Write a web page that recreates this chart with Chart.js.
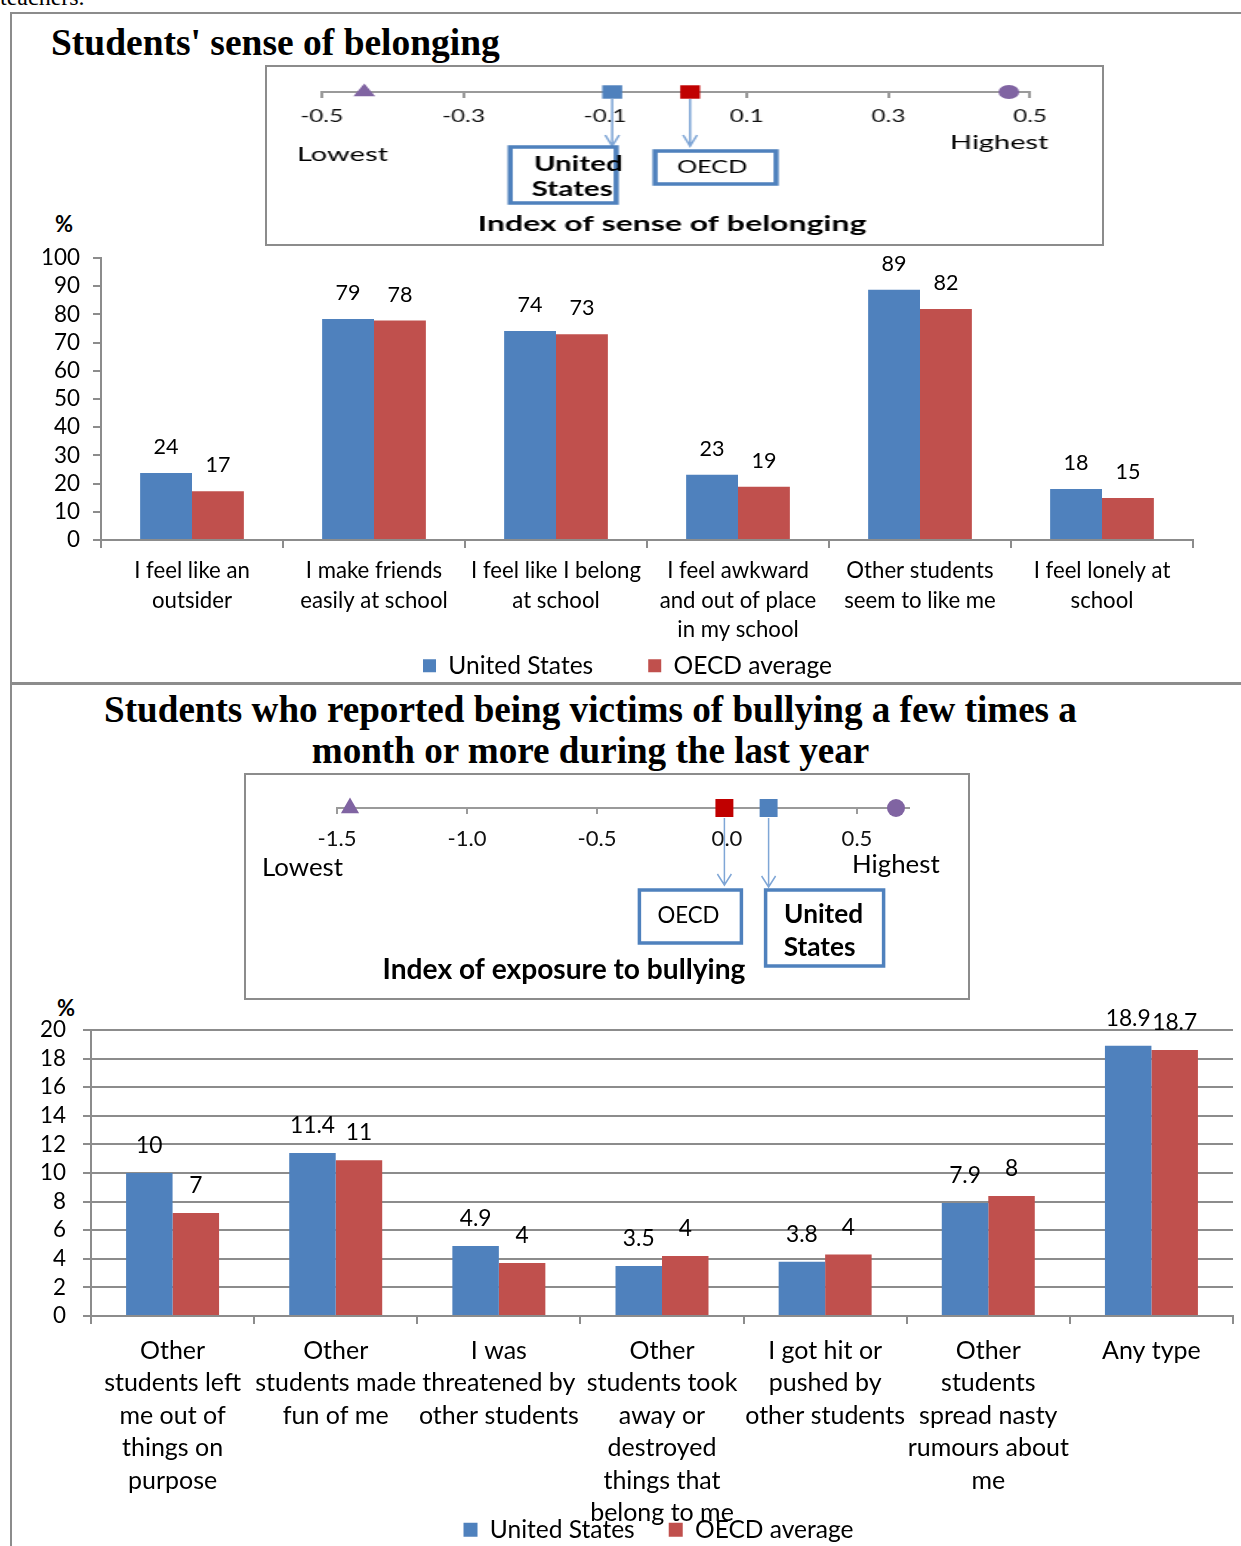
<!DOCTYPE html>
<html>
<head>
<meta charset="utf-8">
<script src="https://cdn.jsdelivr.net/npm/chart.js@4.4.1/dist/chart.umd.min.js"></script>
<style>
html, body { margin: 0; padding: 0; background: #fff; }
body { width: 1241px; height: 1546px; position: relative; overflow: hidden; font-family: Lato, sans-serif; }
.abs { position: absolute; }
.title { font-family: "Liberation Serif", serif; font-weight: bold; color: #000; line-height: 1; white-space: nowrap; }
.pct { font-family: Lato, sans-serif; font-weight: bold; font-size: 22px; line-height: 1; }
.inset { box-sizing: border-box; border: 2px solid #8c8c8c; background: #fff; overflow: hidden; }
.inset canvas { position: absolute; left: 0; top: 0; transform-origin: 0 0; }
</style>
</head>
<body>
<div id="teach" class="abs" style="left:0;top:-15px;font-family:'Liberation Serif',serif;font-size:24px;line-height:1;">teachers.</div>

<!-- panel frames -->
<div class="abs" style="left:10px;top:12px;width:1240px;height:670px;border-left:2px solid #8c8c8c;border-top:2px solid #8c8c8c;"></div>
<div class="abs" style="left:10px;top:682px;width:1240px;height:3px;background:#8c8c8c;"></div>
<div class="abs" style="left:10px;top:685px;width:2px;height:870px;background:#8c8c8c;"></div>

<div id="title1" class="abs title" style="left:51px;">Students' sense of belonging</div>
<div id="title2a" class="abs title" style="left:0;width:1181px;text-align:center;">Students who reported being victims of bullying a few times a</div>
<div id="title2b" class="abs title" style="left:0;width:1181px;text-align:center;">month or more during the last year</div>

<div class="abs pct" style="left:55px;top:213px;">%</div>
<div class="abs pct" style="left:57px;top:997px;">%</div>

<div class="abs inset" style="left:265px;top:65px;width:839px;height:181px;"><canvas id="inset1" width="564" height="177"></canvas></div>
<div class="abs inset" style="left:244px;top:773px;width:726px;height:227px;"><canvas id="inset2" width="722" height="223"></canvas></div>

<canvas id="chart1" class="abs" style="left:0;top:230px;" width="1241" height="458"></canvas>
<canvas id="chart2" class="abs" style="left:0;top:998px;" width="1241" height="554"></canvas>

<script>
// ---------- data ----------
const belongCategories = [
    ['I feel like an', 'outsider'],
    ['I make friends', 'easily at school'],
    ['I feel like I belong', 'at school'],
    ['I feel awkward', 'and out of place', 'in my school'],
    ['Other students', 'seem to like me'],
    ['I feel lonely at', 'school']
];
const belongUS = [23.8, 78.4, 74.1, 23.1, 88.7, 18.1];
const belongOECD = [17.3, 77.8, 73.0, 18.9, 81.9, 14.9];
const belongUSLabels = ['24', '79', '74', '23', '89', '18'];
const belongOECDLabels = ['17', '78', '73', '19', '82', '15'];
const belongYTicks = [0, 10, 20, 30, 40, 50, 60, 70, 80, 90, 100];

const bullyCategories = [
    ['Other', 'students left', 'me out of', 'things on', 'purpose'],
    ['Other', 'students made', 'fun of me'],
    ['I was', 'threatened by', 'other students'],
    ['Other', 'students took', 'away or', 'destroyed', 'things that', 'belong to me'],
    ['I got hit or', 'pushed by', 'other students'],
    ['Other', 'students', 'spread nasty', 'rumours about', 'me'],
    ['Any type']
];
const bullyUS = [10.0, 11.4, 4.9, 3.5, 3.8, 7.9, 18.9];
const bullyOECD = [7.2, 10.9, 3.7, 4.2, 4.3, 8.4, 18.6];
const bullyUSLabels = ['10', '11.4', '4.9', '3.5', '3.8', '7.9', '18.9'];
const bullyOECDLabels = ['7', '11', '4', '4', '4', '8', '18.7'];
const bullyYTicks = [0, 2, 4, 6, 8, 10, 12, 14, 16, 18, 20];

// index insets: lowest country, United States, OECD, highest country
const indexMarkers = ['Lowest', 'United States', 'OECD', 'Highest'];
const belongIndex = [-0.44, -0.09, 0.02, 0.47];
const belongIndexTicks = [-0.5, -0.3, -0.1, 0.1, 0.3, 0.5];
const bullyIndex = [-1.45, 0.16, -0.01, 0.65];
const bullyIndexTicks = [-1.5, -1.0, -0.5, 0.0, 0.5];

const BLUE = '#4F81BD';
const RED = '#C0504D';
const PURPLE = '#8064A2';
const DARKRED = '#C00000';
const AXIS = '#8c8c8c';

// font size that gives a text a wanted width
const mctx = document.createElement('canvas').getContext('2d');
function fit(text, font, width) {
    mctx.font = font.replace('SIZE', '100px');
    return 100 * width / mctx.measureText(text).width;
}

// titles
const serif = 'bold SIZE "Liberation Serif"';
function placeTitle(id, text, width, baseline) {
    const el = document.getElementById(id);
    const size = fit(text, serif, width);
    el.style.fontSize = size + 'px';
    el.style.top = (baseline - 0.8375 * size) + 'px';
}
placeTitle('title1', "Students' sense of belonging", 449, 55);
const t2 = fit('Students who reported being victims of bullying a few times a', serif, 973);
['title2a', 'title2b'].forEach((id, k) => {
    const el = document.getElementById(id);
    el.style.fontSize = t2 + 'px';
    el.style.top = (722 + 41 * k - 0.8375 * t2) + 'px';
});

// ---------- plugins ----------
const barLabels = {
    id: 'barLabels',
    afterDatasetsDraw(chart, args, opts) {
        const ctx = chart.ctx;
        ctx.save();
        ctx.font = opts.size + 'px Lato';
        ctx.fillStyle = '#000';
        ctx.textAlign = 'center';
        ctx.textBaseline = 'middle';
        chart.data.datasets.forEach((ds, di) => {
            chart.getDatasetMeta(di).data.forEach((bar, i) => {
                ctx.fillText(ds.valueLabels[i], bar.x, bar.y - opts.offset);
            });
        });
        ctx.restore();
    }
};

// moves the legend sideways and lets the category labels run down over it
const layoutFix = {
    id: 'layoutFix',
    afterLayout(chart, args, opts) {
        if (chart.legend && opts.dx) {
            chart.legend.left += opts.dx;
            chart.legend.right += opts.dx;
        }
        chart.scales.x.bottom = chart.height;
    }
};

// notes, boxes and arrows of the index insets (positions given in page pixels)
const insetNotes = {
    id: 'insetNotes',
    afterDraw(chart, args, o) {
        const ctx = chart.ctx;
        const xs = chart.scales.x;
        const ys = chart.scales.y;
        const cx = x => (x - o.ox) / o.sx;
        const cy = y => y - o.oy;
        ctx.save();
        ctx.fillStyle = '#000';
        ctx.textBaseline = 'middle';
        o.texts.forEach(t => {
            ctx.font = t.font;
            ctx.textAlign = t.align;
            ctx.fillText(t.t, cx(t.x), cy(t.y));
        });
        o.boxes.forEach(b => {
            const mx = xs.getPixelForValue(chart.data.datasets[0].data[b.i].x);
            const my = ys.getPixelForValue(0);
            // arrow
            ctx.strokeStyle = '#7fa6d6';
            ctx.lineWidth = 1.5;
            const ay = cy(b.arrowY);
            ctx.beginPath();
            ctx.moveTo(mx, my + b.start);
            ctx.lineTo(mx, ay);
            ctx.moveTo(mx - 7 / o.sx, ay - 11);
            ctx.lineTo(mx, ay);
            ctx.lineTo(mx + 7 / o.sx, ay - 11);
            ctx.stroke();
            // box
            ctx.strokeStyle = BLUE;
            ctx.lineWidth = 3.5;
            ctx.strokeRect(mx + b.dx0 / o.sx, cy(b.y0), (b.dx1 - b.dx0) / o.sx, b.y1 - b.y0);
            ctx.font = b.font;
            ctx.textAlign = 'center';
            ctx.fillStyle = '#000';
            b.lines.forEach(l => ctx.fillText(l[0], mx + l[1] / o.sx, cy(l[2])));
        });
        ctx.restore();
    }
};

// ---------- index insets ----------
function makeInset(id, o) {
    const cnv = document.getElementById(id);
    cnv.style.transform = 'scaleX(' + o.sx + ')';
    return new Chart(cnv, {
        type: 'scatter',
        data: {
            datasets: [{
                label: 'Index',
                data: o.values.map(v => ({x: v, y: 0})),
                pointStyle: ['triangle', 'rect', 'rect', 'circle'],
                pointRadius: o.radii,
                backgroundColor: [PURPLE, BLUE, DARKRED, PURPLE],
                borderWidth: 0,
                clip: false
            }]
        },
        options: {
            responsive: false,
            animation: false,
            events: [],
            layout: {padding: {left: o.padL, right: o.padR, top: 10, bottom: 0}},
            plugins: {
                legend: {display: false},
                tooltip: {enabled: false},
                insetNotes: o.notes
            },
            scales: {
                x: {
                    type: 'linear',
                    min: o.min,
                    max: o.max,
                    afterBuildTicks: s => { s.ticks = o.ticks.map(v => ({value: v})); },
                    afterFit: s => { s.height = o.H - o.axisY; },
                    border: {color: '#9a9a9a', width: 2},
                    grid: {drawOnChartArea: false, color: '#9a9a9a', lineWidth: 2, tickLength: 6},
                    ticks: {
                        color: '#111',
                        font: {family: 'Lato', size: o.tickSize},
                        padding: o.tickPad,
                        maxRotation: 0,
                        autoSkip: false,
                        callback: v => v.toFixed(1)
                    }
                },
                y: {display: false, min: 0, max: 1}
            }
        },
        plugins: [insetNotes]
    });
}

const sx1 = 835 / 564;
const in1Tick = fit('-0.5', 'SIZE Lato', 43 / sx1);
const in1Low = fit('Lowest', 'SIZE Lato', 91 / sx1);
const in1Title = fit('Index of sense of belonging', 'bold SIZE Lato', 389 / sx1);
const in1US = fit('United', 'bold SIZE Lato', 89 / sx1);
const in1OECD = fit('OECD', 'SIZE Lato', 70 / sx1);

makeInset('inset1', {
    sx: sx1, values: belongIndex, ticks: belongIndexTicks, min: -0.5, max: 0.5,
    radii: [8.5, 9.5, 9.5, 7],
    padL: 37, padR: 48.6, H: 177, axisY: 25,
    tickSize: in1Tick, tickPad: 9,
    notes: {
        sx: sx1, ox: 267, oy: 67,
        texts: [
            {t: 'Lowest', x: 297, y: 155, align: 'left', font: in1Low + 'px Lato'},
            {t: 'Highest', x: 950, y: 143, align: 'left', font: in1Low + 'px Lato'},
            {t: 'Index of sense of belonging', x: 672, y: 224, align: 'center', font: 'bold ' + in1Title + 'px Lato'}
        ],
        boxes: [
            {i: 1, dx0: -102, dx1: 4, y0: 147, y1: 203, start: 7, arrowY: 146,
             font: 'bold ' + in1US + 'px Lato', lines: [['United', -34, 165], ['States', -40, 190]]},
            {i: 2, dx0: -35, dx1: 86, y0: 151, y1: 184, start: 7, arrowY: 146,
             font: in1OECD + 'px Lato', lines: [['OECD', 22, 168]]}
        ]
    }
});

const in2Tick = fit('-1.5', 'SIZE Lato', 39);
const in2Low = fit('Lowest', 'SIZE Lato', 81);
const in2Title = fit('Index of exposure to bullying', 'bold SIZE Lato', 363);
const in2US = fit('United', 'bold SIZE Lato', 79);
const in2OECD = fit('OECD', 'SIZE Lato', 62);

makeInset('inset2', {
    sx: 1, values: bullyIndex, ticks: bullyIndexTicks, min: -1.5, max: 0.7,
    radii: [10.5, 12.7, 12.7, 9],
    padL: 91, padR: 59, H: 223, axisY: 33,
    tickSize: in2Tick, tickPad: 12,
    notes: {
        sx: 1, ox: 246, oy: 775,
        texts: [
            {t: 'Lowest', x: 262, y: 868, align: 'left', font: in2Low + 'px Lato'},
            {t: 'Highest', x: 852, y: 865, align: 'left', font: in2Low + 'px Lato'},
            {t: 'Index of exposure to bullying', x: 564, y: 970, align: 'center', font: 'bold ' + in2Title + 'px Lato'}
        ],
        boxes: [
            {i: 2, dx0: -85, dx1: 17, y0: 890, y1: 943, start: 10, arrowY: 885,
             font: in2OECD + 'px Lato', lines: [['OECD', -36, 916]]},
            {i: 1, dx0: -3, dx1: 115, y0: 890, y1: 966, start: 10, arrowY: 887,
             font: 'bold ' + in2US + 'px Lato', lines: [['United', 55, 915], ['States', 51, 948]]}
        ]
    }
});

// ---------- bar charts ----------
function makeBars(id, o) {
    return new Chart(document.getElementById(id), {
        type: 'bar',
        data: {
            labels: o.labels,
            datasets: [
                {label: 'United States', data: o.us, valueLabels: o.usLabels, backgroundColor: BLUE},
                {label: 'OECD average', data: o.oecd, valueLabels: o.oecdLabels, backgroundColor: RED}
            ]
        },
        options: {
            responsive: false,
            animation: false,
            events: [],
            datasets: {bar: {categoryPercentage: 0.57, barPercentage: 1.0}},
            layout: {padding: {left: 0, right: o.padR, top: o.padT, bottom: 0}},
            plugins: {
                legend: {
                    position: 'bottom',
                    labels: {
                        boxWidth: o.box, boxHeight: o.box, padding: o.legPad,
                        color: '#000', font: {family: 'Lato', size: o.legSize}
                    }
                },
                tooltip: {enabled: false},
                barLabels: {size: o.valSize, offset: o.valOff},
                layoutFix: {dx: o.legDx}
            },
            scales: {
                x: {
                    afterFit: s => { s.height = o.H - o.padT - o.areaH - s.chart.legend.height; },
                    grid: {drawOnChartArea: false, color: AXIS, lineWidth: 2, tickLength: 8},
                    border: {color: AXIS, width: 2},
                    ticks: {
                        color: '#000',
                        font: {family: 'Lato', size: o.catSize, lineHeight: o.catLH},
                        padding: o.catPad, maxRotation: 0, autoSkip: false
                    }
                },
                y: {
                    min: 0,
                    max: o.ymax,
                    afterBuildTicks: s => { s.ticks = o.yticks.map(v => ({value: v})); },
                    afterFit: s => { s.width = o.axisX; },
                    grid: {drawOnChartArea: o.gridOn, color: AXIS, lineWidth: 2, tickLength: 8},
                    border: {color: AXIS, width: 2},
                    ticks: {color: '#000', font: {family: 'Lato', size: o.tickSize}, padding: o.tickPad, autoSkip: false}
                }
            }
        },
        plugins: [barLabels, layoutFix]
    });
}

const c1Cat = fit('I feel like I belong', 'SIZE Lato', 170);
makeBars('chart1', {
    labels: belongCategories, us: belongUS, oecd: belongOECD,
    usLabels: belongUSLabels, oecdLabels: belongOECDLabels,
    yticks: belongYTicks, ymax: 100, gridOn: false,
    H: 458, padT: 28, areaH: 282, padR: 48, axisX: 101,
    catSize: c1Cat, catLH: 29.6 / c1Cat, catPad: 8,
    tickSize: fit('100', 'SIZE Lato', 39), tickPad: 13,
    valSize: fit('79', 'SIZE Lato', 25), valOff: 26,
    legSize: fit('United States', 'SIZE Lato', 145), legPad: 55, box: 13, legDx: 31
});

const c2Cat = fit('students made', 'SIZE Lato', 161);
makeBars('chart2', {
    labels: bullyCategories, us: bullyUS, oecd: bullyOECD,
    usLabels: bullyUSLabels, oecdLabels: bullyOECDLabels,
    yticks: bullyYTicks, ymax: 20, gridOn: true,
    H: 554, padT: 32, areaH: 286, padR: 8, axisX: 91,
    catSize: c2Cat, catLH: 32.5 / c2Cat, catPad: 10.5,
    tickSize: fit('20', 'SIZE Lato', 26), tickPad: 17,
    valSize: fit('11.4', 'SIZE Lato', 45), valOff: 27,
    legSize: fit('United States', 'SIZE Lato', 145), legPad: 34, box: 14, legDx: 42
});
</script>
</body>
</html>
